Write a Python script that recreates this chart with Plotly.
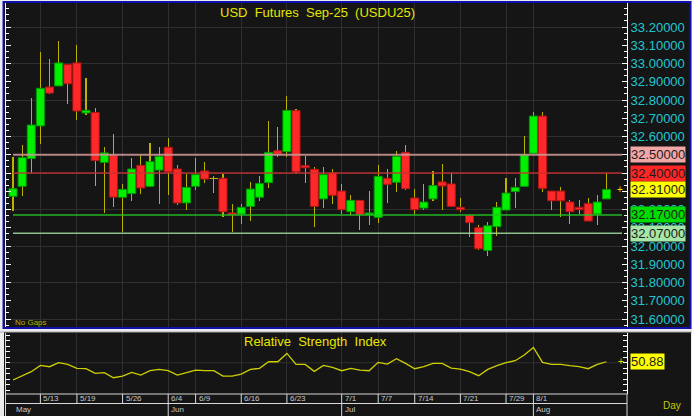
import plotly.graph_objects as go

# ---------------- data ----------------
opens = [32.272, 32.327, 32.479, 32.658, 32.871, 32.877, 32.994, 33.003, 32.729, 32.732,
         32.458, 32.499, 32.267, 32.287, 32.442, 32.327, 32.416, 32.541, 32.422, 32.236,
         32.327, 32.411, 32.370, 32.371, 32.181, 32.175, 32.217, 32.267, 32.347, 32.522,
         32.517, 32.742, 32.440, 32.420, 32.258, 32.400, 32.301, 32.188, 32.250, 32.172,
         32.157, 32.371, 32.349, 32.513, 32.263, 32.208, 32.258, 32.351, 32.340, 32.212,
         32.168, 32.100, 31.976, 32.106, 32.197, 32.298, 32.327, 32.508, 32.712, 32.301,
         32.301, 32.241, 32.212, 32.232, 32.175, 32.258]
highs = [32.490, 32.553, 32.813, 33.063, 33.025, 33.123, 32.994, 33.103, 32.922, 32.756,
         32.541, 32.612, 32.342, 32.484, 32.499, 32.563, 32.544, 32.593, 32.443, 32.393,
         32.482, 32.462, 32.382, 32.396, 32.230, 32.230, 32.353, 32.382, 32.683, 32.652,
         32.822, 32.753, 32.491, 32.431, 32.431, 32.420, 32.342, 32.281, 32.250, 32.301,
         32.442, 32.422, 32.522, 32.553, 32.312, 32.342, 32.413, 32.451, 32.398, 32.261,
         32.168, 32.115, 32.130, 32.241, 32.371, 32.371, 32.603, 32.732, 32.732, 32.301,
         32.321, 32.252, 32.252, 32.261, 32.281, 32.398]
lows = [32.190, 32.276, 32.400, 32.557, 32.835, 32.875, 32.778, 32.689, 32.718, 32.327,
        32.181, 32.215, 32.077, 32.247, 32.287, 32.325, 32.228, 32.280, 32.227, 32.195,
        32.307, 32.347, 32.289, 32.157, 32.079, 32.119, 32.137, 32.248, 32.316, 32.486,
        32.486, 32.400, 32.347, 32.106, 32.208, 32.228, 32.175, 32.170, 32.086, 32.117,
        32.128, 32.237, 32.296, 32.307, 32.175, 32.197, 32.248, 32.199, 32.214, 32.188,
        32.048, 31.978, 31.947, 32.057, 32.195, 32.206, 32.325, 32.505, 32.298, 32.197,
        32.157, 32.119, 32.175, 32.137, 32.117, 32.256]
closes = [32.314, 32.484, 32.663, 32.864, 32.838, 33.003, 32.889, 32.740, 32.743, 32.468,
          32.510, 32.268, 32.310, 32.422, 32.318, 32.462, 32.491, 32.407, 32.236, 32.321,
          32.391, 32.367, 32.370, 32.188, 32.172, 32.212, 32.312, 32.342, 32.513, 32.504,
          32.743, 32.407, 32.429, 32.217, 32.391, 32.278, 32.199, 32.250, 32.173, 32.181,
          32.382, 32.338, 32.491, 32.314, 32.199, 32.241, 32.331, 32.329, 32.217, 32.199,
          32.128, 31.985, 32.111, 32.212, 32.290, 32.321, 32.499, 32.712, 32.316, 32.248,
          32.248, 32.188, 32.199, 32.137, 32.241, 32.310]
rsi = [34.4, 38.3, 41.9, 47.6, 46.4, 50.0, 48.5, 44.9, 44.6, 40.4,
       41.0, 36.5, 38.0, 41.3, 38.9, 42.8, 44.0, 42.8, 38.9, 41.0,
       43.4, 42.8, 42.8, 38.0, 38.0, 39.8, 44.0, 44.9, 50.9, 50.9,
       58.4, 48.5, 48.5, 42.2, 47.6, 45.8, 42.8, 44.9, 43.4, 42.8,
       50.3, 48.8, 53.6, 49.4, 44.6, 46.4, 49.4, 49.4, 45.2, 44.3,
       41.9, 38.3, 44.0, 47.3, 50.0, 51.8, 56.9, 63.8, 50.3, 48.5,
       48.5, 47.3, 46.4, 44.6, 48.5, 50.88]
tick_idx = [3, 7, 12, 17, 20, 25, 30, 36, 40, 44, 49, 54, 57]
tick_labels = ["5/13", "5/19", "5/26", "6/4", "6/9", "6/16", "6/23",
               "7/1", "7/7", "7/14", "7/21", "7/29", "8/1"]
month_idx = [0, 17, 36, 57]
month_labels = ["May", "Jun", "Jul", "Aug"]
level_values = [32.50, 32.40, 32.17, 32.07]
price_ticks = [round(31.6 + 0.1 * k, 1) for k in range(17)]

# ---------------- styles ----------------
W, H = 692, 416
def PX(x): return x / W
def PY(y): return 1 - y / H

BG = "#151515"
GRID = "#2f2f2f"
YEL = "#e6e600"
WICK = "#b9b300"
CYAN = "#1ec8d2"
FONT = "Liberation Sans, Arial, sans-serif"
level_line = ["#c99494", "#c83232", "#22c822", "#98d498"]
level_box = ["#f2a6a6", "#ff2626", "#00dc00", "#a6e6a6"]
level_width = [2, 1.5, 1.5, 1.5]

n = len(closes)
xs = list(range(n))
body_base = [min(o, c) for o, c in zip(opens, closes)]
body_h = [abs(c - o) for o, c in zip(opens, closes)]
body_fill = ["#00f000" if c > o else ("#ff2828" if c < o else WICK) for o, c in zip(opens, closes)]
body_line = ["#009a00" if c > o else ("#b81414" if c < o else WICK) for o, c in zip(opens, closes)]

x_dom = [PX(6), PX(627)]
x_rng = [(6 - 13) / 9.13, (627 - 13) / 9.13]
y_top_px, y_bot_px = 3, 327
y_rng = [33.2 - (y_bot_px - 27) / 182.5, 33.2 + (27 - y_top_px) / 182.5]
r_rng = [21.8, 76.8]

fig = go.Figure()
fig.add_trace(go.Scatter(x=[], y=[], xaxis="x", yaxis="y", showlegend=False))
fig.add_trace(go.Bar(x=xs, base=lows, y=[h - l for h, l in zip(highs, lows)],
                     width=0.12, marker=dict(color=WICK, line=dict(width=0)),
                     xaxis="x", yaxis="y3", showlegend=False, hoverinfo="skip"))
fig.add_trace(go.Bar(x=xs, base=body_base, y=body_h, width=0.88,
                     marker=dict(color=body_fill, line=dict(color=body_line, width=1)),
                     xaxis="x", yaxis="y3", showlegend=False))
fig.add_trace(go.Scatter(x=xs, y=rsi, mode="lines", line=dict(color="#cfcf00", width=1.3),
                         xaxis="x2", yaxis="y2", showlegend=False))

shapes = []
shapes.append(dict(type="rect", xref="paper", yref="paper", x0=PX(4), x1=PX(691), y0=PY(327), y1=PY(3),
                   fillcolor=BG, line=dict(width=0), layer="below"))
shapes.append(dict(type="rect", xref="paper", yref="paper", x0=PX(4), x1=PX(691), y0=PY(416), y1=PY(332),
                   fillcolor=BG, line=dict(width=0), layer="below"))
for v, c, w in zip(level_values, level_line, level_width):
    shapes.append(dict(type="line", xref="x", yref="y3", x0=0, x1=n + 0.7, y0=v, y1=v,
                       line=dict(color=c, width=w), opacity=0.9, layer="above"))
shapes.append(dict(type="line", xref="paper", yref="y2", x0=x_dom[0], x1=x_dom[1], y0=50, y1=50,
                   line=dict(color=GRID, width=1), layer="below"))
WL = "#d8d8d8"
shapes.append(dict(type="line", xref="paper", yref="paper", x0=PX(5), x1=PX(627), y0=PY(394), y1=PY(394),
                   line=dict(color=WL, width=1)))
shapes.append(dict(type="line", xref="paper", yref="paper", x0=PX(5), x1=PX(627), y0=PY(403.5), y1=PY(403.5),
                   line=dict(color=WL, width=1)))
shapes.append(dict(type="line", xref="paper", yref="paper", x0=PX(627), x1=PX(627), y0=PY(416), y1=PY(394),
                   line=dict(color=WL, width=1)))
shapes.append(dict(type="line", xref="paper", yref="paper", x0=PX(5.5), x1=PX(5.5), y0=PY(416), y1=PY(333),
                   line=dict(color=WL, width=1)))
for t in tick_idx:
    shapes.append(dict(type="line", xref="x2", yref="paper", x0=t, x1=t, y0=PY(403.5), y1=PY(394),
                       line=dict(color=WL, width=1)))
for t in month_idx[1:]:
    shapes.append(dict(type="line", xref="x2", yref="paper", x0=t, x1=t, y0=PY(416), y1=PY(403.5),
                       line=dict(color=WL, width=1)))
shapes.append(dict(type="rect", xref="paper", yref="paper", x0=PX(3.5), x1=PX(690.5), y0=PY(328), y1=PY(2),
                   line=dict(color="#1010b0", width=2), layer="above"))
shapes.append(dict(type="line", xref="paper", yref="paper", x0=PX(0), x1=PX(692), y0=PY(332), y1=PY(332),
                   line=dict(color="#a8a8a8", width=1)))

ann = []
def A(**kw):
    kw.setdefault("showarrow", False)
    kw.setdefault("yanchor", "middle")
    kw.setdefault("xanchor", "center")
    ann.append(kw)

A(text="USD\u00a0\u00a0Futures\u00a0\u00a0Sep-25\u00a0\u00a0(USDU25)", xref="paper", yref="paper",
  x=PX(317), y=PY(12), font=dict(color=YEL, size=13, family=FONT))
A(text="Relative\u00a0\u00a0Strength\u00a0\u00a0Index", xref="paper", yref="paper",
  x=PX(315), y=PY(341), font=dict(color=YEL, size=13, family=FONT))
A(text="No Gaps", xref="paper", yref="paper", x=PX(13), y=PY(322), xanchor="left",
  font=dict(color="#b4b400", size=8, family=FONT))
A(text="Day", xref="paper", yref="paper", x=PX(671.5), y=PY(405), font=dict(color="#c8c800", size=10, family=FONT))
for v, bc in zip(level_values, level_box):
    A(text=f"{v:.5f}", xref="paper", yref="y3", x=PX(630), y=v, xanchor="left", bgcolor=bc, borderpad=0,
      font=dict(color="#1c1c1c", size=13, family=FONT))
A(text=f"{closes[-1]:.5f}", xref="paper", yref="y3", x=PX(630), y=closes[-1], xanchor="left",
  bgcolor="#ffff00", borderpad=0, font=dict(color="#1c1c1c", size=13, family=FONT))
A(text="+", xref="paper", yref="y3", x=PX(620), y=closes[-1], font=dict(color=YEL, size=10, family=FONT))
A(text=f"{rsi[-1]:.2f}", xref="paper", yref="y2", x=PX(630), y=rsi[-1], xanchor="left",
  bgcolor="#ffff00", borderpad=0, font=dict(color="#1c1c1c", size=13, family=FONT))
A(text="+", xref="paper", yref="y2", x=PX(621), y=rsi[-1], font=dict(color=YEL, size=10, family=FONT))
for t, lab in zip(tick_idx, tick_labels):
    A(text=lab, xref="x2", yref="paper", x=t, y=PY(398.8), xanchor="left", xshift=1,
      font=dict(color="#c8c8c8", size=8, family=FONT))
for t, lab in zip(month_idx, month_labels):
    A(text=lab, xref="x2", yref="paper", x=t, y=PY(409.5), xanchor="left", xshift=1,
      font=dict(color="#c8c8c8", size=8, family=FONT))

fig.update_layout(
    template="none",
    width=W, height=H, margin=dict(l=0, r=0, t=0, b=0, pad=0, autoexpand=False),
    font=dict(family=FONT),
    paper_bgcolor="#ececec", plot_bgcolor=BG, barmode="overlay", bargap=0,
    showlegend=False, shapes=shapes, annotations=ann,
    xaxis=dict(domain=x_dom, range=x_rng, anchor="y", tickvals=tick_idx, showticklabels=False,
               ticks="", showgrid=True, gridcolor=GRID, gridwidth=1, zeroline=False, showline=False,
               automargin=False),
    yaxis=dict(domain=[PY(y_bot_px), PY(y_top_px)], range=y_rng, anchor="x", tick0=31.6, dtick=0.2,
               showgrid=True, gridcolor=GRID, showticklabels=False, ticks="", zeroline=False,
               automargin=False),
    yaxis3=dict(overlaying="y", anchor="x", side="right", range=y_rng, tickmode="array",
                tickvals=price_ticks, ticktext=[f"{v:.5f}" for v in price_ticks],
                ticks="inside", ticklen=5, tickcolor="white", showline=True, linecolor="white",
                linewidth=1, mirror="ticks", showgrid=False, zeroline=False, automargin=False,
                tickfont=dict(color=CYAN, size=13, family=FONT),
                minor=dict(ticks="inside", ticklen=3, tickcolor="white", dtick=0.1 / 3, tick0=31.6)),
    xaxis2=dict(domain=x_dom, range=x_rng, anchor="y2", tickvals=tick_idx, showticklabels=False,
                ticks="", showgrid=True, gridcolor=GRID, zeroline=False, showline=False,
                automargin=False),
    yaxis2=dict(domain=[PY(394), PY(333)], range=r_rng, anchor="x2", side="right", tick0=0, dtick=5,
                ticks="inside", ticklen=4, tickcolor="white", showticklabels=False, showline=True,
                linecolor="white", mirror="ticks", showgrid=False, zeroline=False, automargin=False),
)
fig.write_html("out.html", config={"displayModeBar": False, "staticPlot": True},
               post_script="document.body.style.margin='0px';document.body.style.padding='0px';"
                           "document.body.style.overflow='hidden';")
